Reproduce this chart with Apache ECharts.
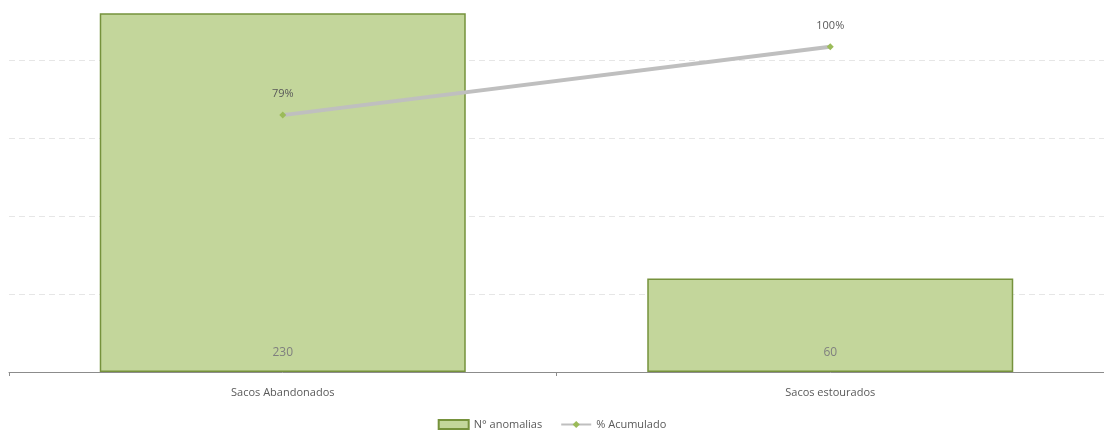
<!DOCTYPE html>
<html><head><meta charset="utf-8">
<script src="https://cdn.jsdelivr.net/npm/echarts@6/dist/echarts.min.js"></script>
<style>html,body{margin:0;padding:0;background:#fff}#c{width:1104px;height:435px}</style>
</head><body><div id="c"></div>
<script>
const categories = ["Sacos Abandonados", "Sacos estourados"];
const anomalias = [230, 60];
const acumulado = [0.79, 1.00];
const chart = echarts.init(document.getElementById('c'));
chart.setOption({
  animation: false,
  textStyle: { fontFamily: "Open Sans" },
  grid: { left: 9, right: -6, top: 0, bottom: 63 },
  legend: {
    bottom: 0, left: 'center', itemGap: 18, itemWidth: 30, itemHeight: 9,
    textStyle: { color: '#595959', fontSize: 11, fontFamily: "Open Sans" },
    data: [
      { name: 'N° anomalias', icon: 'rect' },
      { name: '% Acumulado' }
    ]
  },
  xAxis: {
    type: 'category', data: categories,
    axisLine: { lineStyle: { color: '#8c8c8c', width: 1 } },
    axisTick: { show: true, length: 4, lineStyle: { color: '#8c8c8c' } },
    axisLabel: { color: '#595959', fontSize: 11, margin: 15 }
  },
  yAxis: [
    { type: 'value', min: 0, max: 238.5, interval: 50, show: true,
      axisLine: { show: false }, axisTick: { show: false }, axisLabel: { show: false },
      splitLine: { showMaxLine: false, lineStyle: { color: '#e6e6e6', type: [6, 4] } } },
    { type: 'value', min: 0, max: 1.144, show: true,
      axisLine: { show: false }, axisTick: { show: false }, axisLabel: { show: false },
      splitLine: { show: false } }
  ],
  series: [
    { name: 'N° anomalias', type: 'bar', data: anomalias, barWidth: 366,
      itemStyle: { color: '#C3D69B', borderColor: '#76923C', borderWidth: 1.5 },
      label: { show: true, position: 'insideBottom', distance: 13, color: '#7f7f7f', fontSize: 12 } },
    { name: '% Acumulado', type: 'line', yAxisIndex: 1, data: acumulado,
      lineStyle: { color: '#BFBFBF', width: 4 },
      itemStyle: { color: '#9BBB59' },
      symbol: 'diamond', symbolSize: 7,
      label: { show: true, position: 'top', distance: 12, color: '#595959', fontSize: 11,
        formatter: p => Math.round(p.value * 100) + '%' } }
  ]
});
</script></body></html>
